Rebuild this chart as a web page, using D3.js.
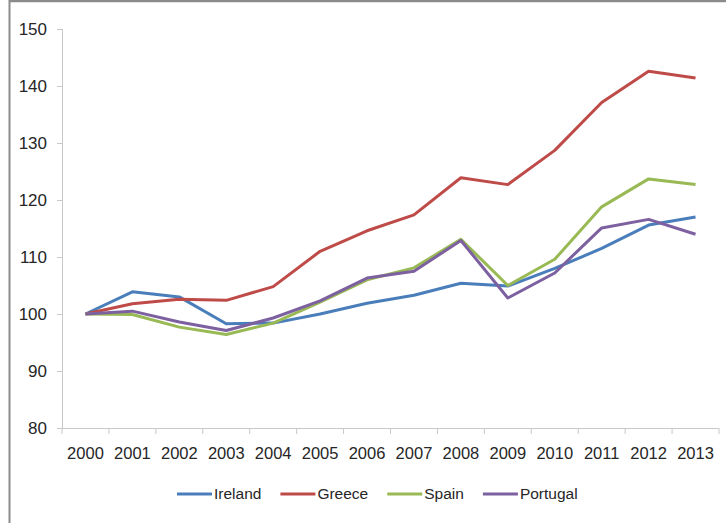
<!DOCTYPE html>
<html>
<head>
<meta charset="utf-8">
<script src="https://cdn.jsdelivr.net/npm/d3@7"></script>
<style>
  body { margin: 0; background: #fff; }
  svg text { font-family: "Liberation Sans Narrow", "Arial Narrow", "Liberation Sans", sans-serif; fill: #262626; }
</style>
</head>
<body>
<div id="chart"></div>
<script>
/*
Data: index, 2000 = 100
*/
var years = ["2000", "2001", "2002", "2003", "2004", "2005", "2006",
             "2007", "2008", "2009", "2010", "2011", "2012", "2013"];
var ireland  = [100, 103.9, 103.0, 98.3, 98.4, 100.0, 101.9, 103.3, 105.4, 104.9, 108.0, 111.5, 115.6, 117.0];
var greece   = [100, 101.8, 102.6, 102.4, 104.8, 111.0, 114.6, 117.4, 123.9, 122.7, 128.7, 137.1, 142.6, 141.4];
var spain    = [100, 99.9, 97.7, 96.4, 98.4, 102.1, 106.0, 108.1, 113.1, 105.0, 109.6, 118.8, 123.7, 122.7];
var portugal = [100, 100.5, 98.6, 97.1, 99.3, 102.3, 106.3, 107.5, 112.9, 102.8, 107.2, 115.1, 116.6, 114.0];
var yTicks = [80, 90, 100, 110, 120, 130, 140, 150];

var seriesNames = ["Ireland", "Greece", "Spain", "Portugal"];
var seriesColors = ["#4a7ebb", "#be4b48", "#98b954", "#7d60a0"];
var series = [ireland, greece, spain, portugal];

/*
Sizes
*/
var width = 726, height = 523;
var plot = { left: 62, right: 719, top: 29, bottom: 428 };

var svg = d3.select("#chart").append("svg")
  .attr("width", width)
  .attr("height", height);

// Frame (left and top edges only)
svg.append("line").attr("x1", 9.5).attr("x2", 9.5).attr("y1", 0).attr("y2", height)
  .attr("stroke", "#8c8c8c").attr("stroke-width", 2);
svg.append("line").attr("x1", 9).attr("x2", width).attr("y1", 1).attr("y2", 1)
  .attr("stroke", "#8c8c8c").attr("stroke-width", 2.5);

/*
Scales
*/
var xScale = d3.scaleBand()
  .domain(years)
  .range([plot.left, plot.right]);

var yScale = d3.scaleLinear()
  .domain([80, 150])
  .range([plot.bottom, plot.top]);

/*
Axes
*/
var axisColor = "#c8c8c8";

var gY = svg.append("g")
  .attr("transform", "translate(" + plot.left + ",0)")
  .call(d3.axisLeft(yScale).tickValues(yTicks).tickSize(5).tickPadding(10));
gY.selectAll("path, line").attr("stroke", axisColor);
gY.select(".domain").attr("d", "M0," + plot.top + "V" + plot.bottom);
gY.selectAll("text").attr("font-size", 17).style("font-family", null);

var gX = svg.append("g")
  .attr("transform", "translate(0," + plot.bottom + ")")
  .call(d3.axisBottom(xScale).tickSize(0).tickPadding(19));
gX.selectAll("path").attr("stroke", axisColor);
gX.select(".domain").attr("d", "M" + plot.left + ",0H" + plot.right);
gX.selectAll("text").attr("font-size", 16.5).style("font-family", null);

// Tick marks between categories
var bounds = years.map(function(d) { return xScale(d); }).concat([plot.right]);
gX.selectAll(".sep")
  .data(bounds)
  .enter().append("line")
  .attr("class", "sep")
  .attr("x1", function(d) { return d; })
  .attr("x2", function(d) { return d; })
  .attr("y1", 0).attr("y2", 6)
  .attr("stroke", axisColor);

svg.selectAll(".domain, .tick line").attr("shape-rendering", "crispEdges");

/*
Lines
*/
var line = d3.line()
  .x(function(d, i) { return xScale(years[i]) + xScale.bandwidth() / 2; })
  .y(function(d) { return yScale(d); });

svg.append("g").selectAll("path")
  .data(series)
  .enter().append("path")
  .attr("d", line)
  .attr("fill", "none")
  .attr("stroke", function(d, i) { return seriesColors[i]; })
  .attr("stroke-width", 3)
  .attr("stroke-linejoin", "round");

/*
Legend
*/
var legend = svg.append("g");
var lx = 177, ly = 494;
seriesNames.forEach(function(name, i) {
  legend.append("line")
    .attr("x1", lx).attr("x2", lx + 35)
    .attr("y1", ly).attr("y2", ly)
    .attr("stroke", seriesColors[i])
    .attr("stroke-width", 3);
  var t = legend.append("text")
    .attr("x", lx + 37)
    .attr("y", ly)
    .attr("dy", "0.35em")
    .attr("font-size", 15.5)
    .text(name);
  lx += 37 + t.node().getComputedTextLength() + 19;
});
</script>
</body>
</html>
